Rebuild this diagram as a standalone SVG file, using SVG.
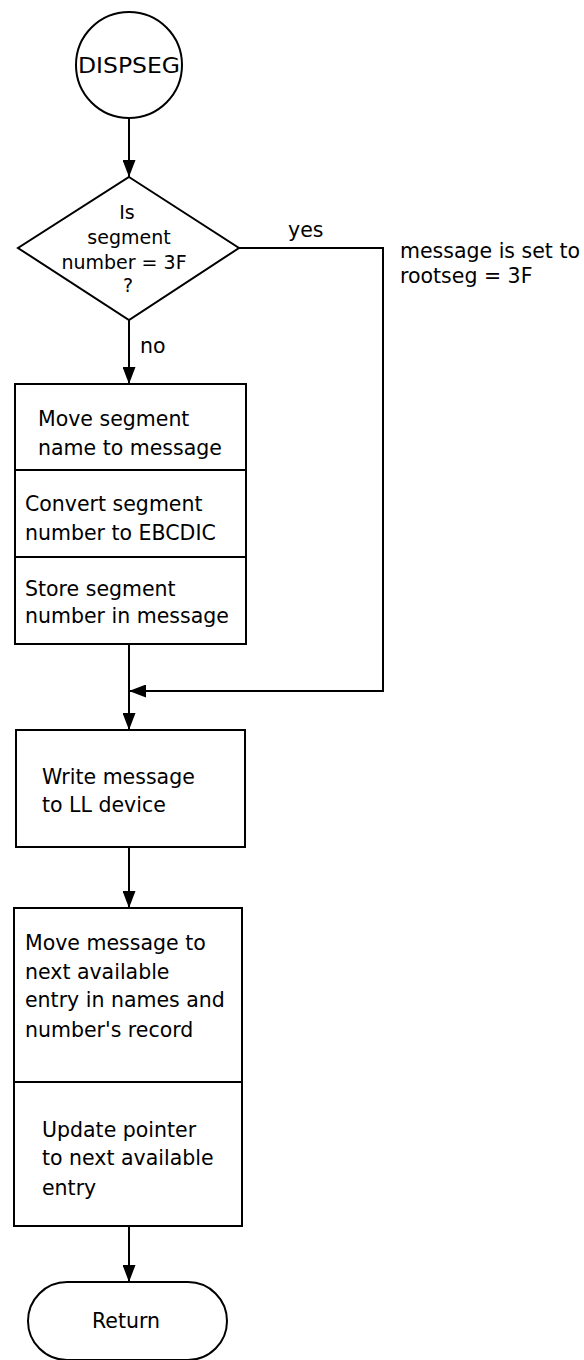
<svg xmlns="http://www.w3.org/2000/svg" width="584" height="1360" viewBox="0 0 584 1360">
<defs>
<style>
.s{fill:#fff;stroke:#000;stroke-width:2}
.c{fill:none;stroke:#000;stroke-width:2}
.t{font-family:"DejaVu Sans","Liberation Sans",sans-serif;font-size:20.5px;fill:#000}
.d{font-family:"DejaVu Sans","Liberation Sans",sans-serif;font-size:19px;fill:#000}
.big{font-size:21px}
</style>
<marker id="ah" markerUnits="userSpaceOnUse" markerWidth="18" markerHeight="13" refX="17" refY="6.5" orient="auto">
<path d="M0,0 L17,6.5 L0,13 z" fill="#000"/>
</marker>
</defs>
<rect width="584" height="1360" fill="#fff"/>
<g id="connectors">
<line class="c" x1="129" y1="118" x2="129" y2="177" marker-end="url(#ah)"/>
<line class="c" x1="129" y1="320" x2="129" y2="384" marker-end="url(#ah)"/>
<text class="t" x="140" y="353">no</text>
<polyline class="c" points="239,248 383,248 383,691 129,691" marker-end="url(#ah)"/>
<text class="t" x="288" y="237">yes</text>
<line class="c" x1="129" y1="644" x2="129" y2="730" marker-end="url(#ah)"/>
<line class="c" x1="129" y1="847" x2="129" y2="908" marker-end="url(#ah)"/>
<line class="c" x1="129" y1="1226" x2="129" y2="1282" marker-end="url(#ah)"/>
</g>
<g id="start">
<circle class="s" cx="129" cy="65" r="53"/>
<text class="t big" x="129" y="73" text-anchor="middle" textLength="102" lengthAdjust="spacingAndGlyphs">DISPSEG</text>
</g>
<g id="decision">
<polygon class="s" points="129,177 239,248 129,320 18,248"/>
<text class="d" x="127" y="219" text-anchor="middle">Is</text>
<text class="d" x="129" y="244" text-anchor="middle">segment</text>
<text class="d" x="124" y="269" text-anchor="middle">number = 3F</text>
<text class="d" x="128" y="292" text-anchor="middle">?</text>
</g>
<g id="note">
<text class="t" x="400" y="258">message is set to</text>
<text class="t" x="400" y="283">rootseg = 3F</text>
</g>
<g id="box1">
<rect class="s" x="15" y="384" width="231" height="260"/>
<line class="c" x1="15" y1="470" x2="246" y2="470"/>
<line class="c" x1="15" y1="557" x2="246" y2="557"/>
<text class="t" x="38" y="426">Move segment</text>
<text class="t" x="38" y="455">name to message</text>
<text class="t" x="25" y="511">Convert segment</text>
<text class="t" x="25" y="540">number to EBCDIC</text>
<text class="t" x="25" y="596">Store segment</text>
<text class="t" x="25" y="623">number in message</text>
</g>
<g id="box2">
<rect class="s" x="16" y="730" width="229" height="117"/>
<text class="t" x="42" y="784">Write message</text>
<text class="t" x="42" y="812">to LL device</text>
</g>
<g id="box3">
<rect class="s" x="14" y="908" width="228" height="318"/>
<line class="c" x1="14" y1="1082" x2="242" y2="1082"/>
<text class="t" x="25" y="950">Move message to</text>
<text class="t" x="25" y="979">next available</text>
<text class="t" x="25" y="1007">entry in names and</text>
<text class="t" x="25" y="1037">number's record</text>
<text class="t" x="42" y="1137">Update pointer</text>
<text class="t" x="42" y="1165">to next available</text>
<text class="t" x="42" y="1195">entry</text>
</g>
<g id="end">
<rect class="s" x="28" y="1282" width="199" height="78" rx="39" ry="39"/>
<text class="t" x="126" y="1328" text-anchor="middle">Return</text>
</g>
</svg>
